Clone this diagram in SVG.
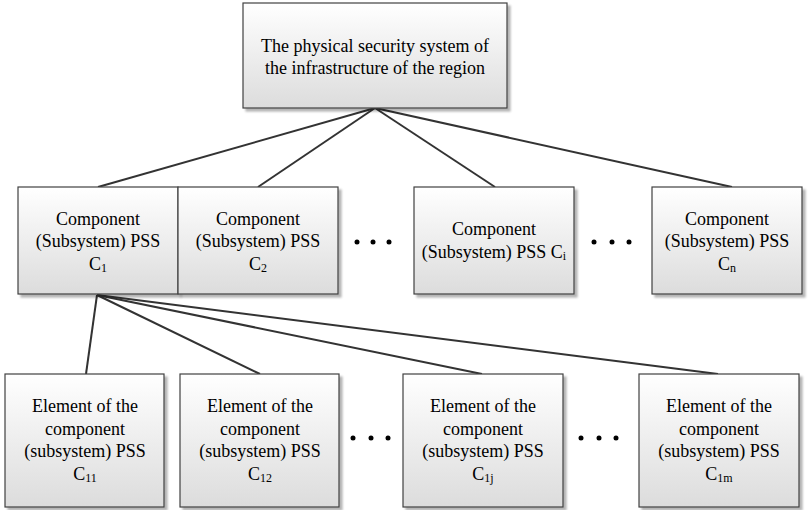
<svg xmlns="http://www.w3.org/2000/svg" width="809" height="510" viewBox="0 0 809 510">
<defs>
<linearGradient id="g" x1="0" y1="0" x2="0" y2="1">
<stop offset="0" stop-color="#ffffff"/>
<stop offset="1" stop-color="#dcdcdc"/>
</linearGradient>
<filter id="sh" x="-10%" y="-10%" width="130%" height="130%">
<feGaussianBlur in="SourceAlpha" stdDeviation="1.2"/>
<feOffset dx="3" dy="3"/>
<feComponentTransfer><feFuncA type="linear" slope="0.3"/></feComponentTransfer>
<feMerge><feMergeNode/><feMergeNode in="SourceGraphic"/></feMerge>
</filter>
</defs>
<style>
.box{fill:url(#g);stroke:#404040;stroke-width:1.2;filter:url(#sh)}
.t{font-family:"Liberation Serif","Times New Roman",serif;font-size:18px;fill:#000;text-anchor:middle}
.s{font-size:12px}
.c{stroke:#333;stroke-width:2;fill:none}
.d{fill:#000}
</style>
<g id="connectors">
<line class="c" x1="375" y1="108" x2="98" y2="187"/>
<line class="c" x1="375" y1="108" x2="258" y2="187"/>
<line class="c" x1="375" y1="108" x2="495" y2="187"/>
<line class="c" x1="375" y1="108" x2="732" y2="187"/>
<line class="c" x1="97" y1="295" x2="86" y2="374"/>
<line class="c" x1="97" y1="295" x2="260" y2="374"/>
<line class="c" x1="97" y1="295" x2="482" y2="374"/>
<line class="c" x1="97" y1="295" x2="718" y2="374"/>
</g>
<g id="root">
<rect class="box" x="243" y="3" width="264" height="105"/>
<text class="t" x="375" y="52">The physical security system of</text>
<text class="t" x="375" y="74">the infrastructure of the region</text>
</g>
<g id="c1">
<rect class="box" x="18" y="187" width="160" height="107"/>
<text class="t" x="98" y="225">Component</text>
<text class="t" x="98" y="247">(Subsystem) PSS</text>
<text class="t" x="98" y="270">C<tspan class="s" dy="2">1</tspan></text>
</g>
<g id="c2">
<rect class="box" x="178" y="187" width="160" height="107"/>
<text class="t" x="258" y="225">Component</text>
<text class="t" x="258" y="247">(Subsystem) PSS</text>
<text class="t" x="258" y="270">C<tspan class="s" dy="2">2</tspan></text>
</g>
<g id="dots1">
<circle class="d" cx="357" cy="242" r="2.5"/>
<circle class="d" cx="373" cy="242" r="2.5"/>
<circle class="d" cx="389" cy="242" r="2.5"/>
</g>
<g id="ci">
<rect class="box" x="414" y="187" width="160" height="107"/>
<text class="t" x="494" y="235">Component</text>
<text class="t" x="494" y="258">(Subsystem) PSS C<tspan class="s" dy="2">i</tspan></text>
</g>
<g id="dots2">
<circle class="d" cx="594" cy="242" r="2.5"/>
<circle class="d" cx="612" cy="242" r="2.5"/>
<circle class="d" cx="629" cy="242" r="2.5"/>
</g>
<g id="cn">
<rect class="box" x="652" y="187" width="150" height="107"/>
<text class="t" x="727" y="225">Component</text>
<text class="t" x="727" y="247">(Subsystem) PSS</text>
<text class="t" x="727" y="270">C<tspan class="s" dy="2">n</tspan></text>
</g>
<g id="c11">
<rect class="box" x="5" y="374" width="159" height="133"/>
<text class="t" x="85" y="412">Element of the</text>
<text class="t" x="85" y="435">component</text>
<text class="t" x="85" y="457">(subsystem) PSS</text>
<text class="t" x="85" y="480">C<tspan class="s" dy="2">11</tspan></text>
</g>
<g id="c12">
<rect class="box" x="180" y="374" width="159" height="133"/>
<text class="t" x="260" y="412">Element of the</text>
<text class="t" x="260" y="435">component</text>
<text class="t" x="260" y="457">(subsystem) PSS</text>
<text class="t" x="260" y="480">C<tspan class="s" dy="2">12</tspan></text>
</g>
<g id="dots3">
<circle class="d" cx="353" cy="438" r="2.5"/>
<circle class="d" cx="371" cy="438" r="2.5"/>
<circle class="d" cx="388" cy="438" r="2.5"/>
</g>
<g id="c1j">
<rect class="box" x="403" y="374" width="160" height="133"/>
<text class="t" x="483" y="412">Element of the</text>
<text class="t" x="483" y="435">component</text>
<text class="t" x="483" y="457">(subsystem) PSS</text>
<text class="t" x="483" y="480">C<tspan class="s" dy="2">1j</tspan></text>
</g>
<g id="dots4">
<circle class="d" cx="581" cy="438" r="2.5"/>
<circle class="d" cx="599" cy="438" r="2.5"/>
<circle class="d" cx="616" cy="438" r="2.5"/>
</g>
<g id="c1m">
<rect class="box" x="639" y="374" width="160" height="133"/>
<text class="t" x="719" y="412">Element of the</text>
<text class="t" x="719" y="435">component</text>
<text class="t" x="719" y="457">(subsystem) PSS</text>
<text class="t" x="719" y="480">C<tspan class="s" dy="2">1m</tspan></text>
</g>
</svg>
